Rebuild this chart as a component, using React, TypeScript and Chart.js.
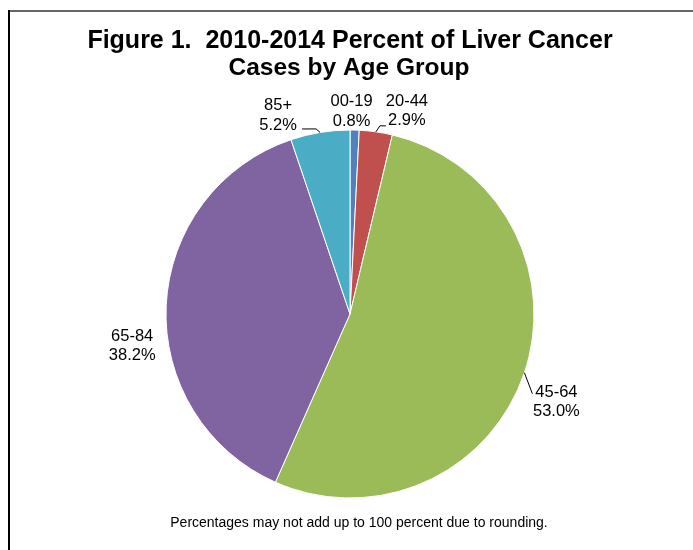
import React, { useEffect, useRef } from "react";
import { Chart, registerables } from "chart.js";

Chart.register(...registerables);

const ageGroups = ["00-19", "20-44", "45-64", "65-84", "85+"];
const percentValues = [0.8, 2.9, 53.0, 38.2, 5.2];
const percentLabels = ["0.8%", "2.9%", "53.0%", "38.2%", "5.2%"];
const sliceColors = ["#4F81BD", "#C0504D", "#9BBB59", "#8064A2", "#4BACC6"];
const titleLines = ["Figure 1.  2010-2014 Percent of Liver Cancer", "Cases by Age Group"];
const footnote = "Percentages may not add up to 100 percent due to rounding.";

// label placement (offset of label block centre from slice mid-angle edge point)
const labelOffsets: number[][] = [[-3, -20], [31, -22], [32, 28], [-34, 39], [-42, -18]];
// leader line vertices relative to slice mid-angle edge point
const leaderPaths: number[][][] = [[], [[4, -6], [10, -6]], [[8, 21]], [], [[-4, -3.5], [-18, -3.5]]];

const FONT = "'Liberation Sans', Arial, sans-serif";

const decorPlugin = {
  id: "decor",
  beforeDraw(chart: any) {
    const ctx = chart.ctx as CanvasRenderingContext2D;
    ctx.save();
    ctx.fillStyle = "#ffffff";
    ctx.fillRect(0, 0, chart.width, chart.height);
    // frame
    ctx.fillStyle = "#666666";
    ctx.fillRect(9, 10, chart.width - 9, 2);
    ctx.fillStyle = "#000000";
    ctx.fillRect(8, 10, 2, chart.height - 10);
    // title
    ctx.fillStyle = "#000000";
    ctx.textAlign = "center";
    ctx.textBaseline = "alphabetic";
    ctx.font = `bold 25px ${FONT}`;
    ctx.fillText(titleLines[0], 350, 48, 526);
    ctx.font = `bold 24.5px ${FONT}`;
    ctx.fillText(titleLines[1], 349, 75, 244);
    // footnote
    ctx.font = `14px ${FONT}`;
    ctx.fillText(footnote, 359, 527, 382);
    ctx.restore();
  },
  afterDraw(chart: any) {
    const ctx = chart.ctx as CanvasRenderingContext2D;
    const meta = chart.getDatasetMeta(0);
    ctx.save();
    meta.data.forEach((arc: any, i: number) => {
      const p = arc.getProps(["x", "y", "startAngle", "endAngle", "outerRadius"], true);
      const mid = (p.startAngle + p.endAngle) / 2;
      const ex = p.x + Math.cos(mid) * p.outerRadius;
      const ey = p.y + Math.sin(mid) * p.outerRadius;
      const path = leaderPaths[i];
      if (path.length) {
        ctx.strokeStyle = "#000000";
        ctx.lineWidth = 1;
        ctx.beginPath();
        ctx.moveTo(ex, ey);
        path.forEach(([dx, dy]) => ctx.lineTo(ex + dx, ey + dy));
        ctx.stroke();
      }
      const cx = ex + labelOffsets[i][0];
      const cy = ey + labelOffsets[i][1];
      ctx.fillStyle = "#000000";
      ctx.textAlign = "center";
      ctx.textBaseline = "alphabetic";
      ctx.font = `16.5px ${FONT}`;
      ctx.fillText(chart.data.labels[i], cx, cy - 4);
      ctx.fillText(percentLabels[i], cx, cy + 15.5);
    });
    ctx.restore();
  },
};

export default function App() {
  const canvasRef = useRef<HTMLCanvasElement | null>(null);

  useEffect(() => {
    if (!canvasRef.current) return;
    const chart = new Chart(canvasRef.current, {
      type: "pie",
      data: {
        labels: ageGroups,
        datasets: [
          {
            data: percentValues,
            backgroundColor: sliceColors,
            borderColor: "#ffffff",
            borderWidth: 1,
            hoverOffset: 0,
          },
        ],
      },
      options: {
        responsive: false,
        animation: false,
        events: [],
        radius: 184,
        layout: { padding: { left: 166, right: 159, top: 130, bottom: 52 } },
        plugins: {
          legend: { display: false },
          tooltip: { enabled: false },
          title: { display: false },
        },
      } as any,
      plugins: [decorPlugin],
    });
    return () => chart.destroy();
  }, []);

  return (
    <div style={{ position: "absolute", left: 0, top: 0, width: 693, height: 550 }}>
      <canvas ref={canvasRef} width={693} height={550} style={{ width: 693, height: 550, display: "block" }} />
    </div>
  );
}
